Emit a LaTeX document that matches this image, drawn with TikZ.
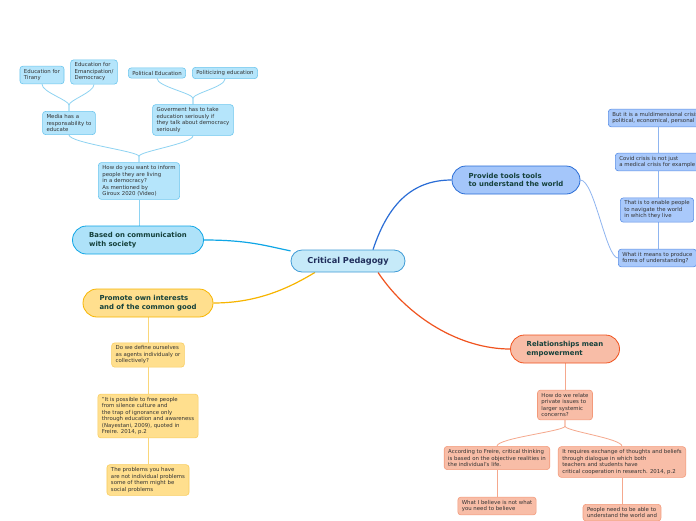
\documentclass[tikz,border=0pt]{standalone}
\usepackage{fontspec}
\setmainfont{DejaVu Sans}
\usetikzlibrary{backgrounds}

\definecolor{rootfill}{HTML}{C6EAF9}
\definecolor{rootline}{HTML}{3F9BD6}
\definecolor{roottext}{HTML}{1F2D5A}
\definecolor{topictext}{HTML}{14403A}
\definecolor{ideatext}{HTML}{333333}
\definecolor{basedfill}{HTML}{AEE2F9}
\definecolor{basedline}{HTML}{0FA6E6}
\definecolor{blueideafill}{HTML}{B5E5FB}
\definecolor{blueidealine}{HTML}{6CC6EE}
\definecolor{bluesub}{HTML}{8ED3F2}
\definecolor{toolsfill}{HTML}{A4C6FA}
\definecolor{toolsline}{HTML}{2A6DD6}
\definecolor{toolideafill}{HTML}{A9C9FB}
\definecolor{toolidealine}{HTML}{5B8FE6}
\definecolor{toolsub}{HTML}{8FB5F0}
\definecolor{promfill}{HTML}{FFDF8E}
\definecolor{promline}{HTML}{F7B500}
\definecolor{yellowidealine}{HTML}{F8CD60}
\definecolor{yellowsub}{HTML}{FAD77A}
\definecolor{relfill}{HTML}{F8BDA7}
\definecolor{relline}{HTML}{F0531F}
\definecolor{redidealine}{HTML}{F39A7B}
\definecolor{redsub}{HTML}{F5A88D}

\tikzset{
  root/.style={draw=rootline, fill=rootfill, line width=0.8pt, rounded corners=11pt,
    minimum width=114pt, minimum height=22pt, text=roottext,
    font=\fontsize{8.2}{9.5}\selectfont\bfseries},
  topic/.style={line width=0.8pt, rounded corners=14pt, minimum height=28pt, align=left,
    text=topictext, font=\fontsize{6.9}{8.8}\selectfont\bfseries},
  idea/.style={line width=0.6pt, rounded corners=3pt, inner xsep=4pt, inner ysep=3pt,
    align=left, text=ideatext, font=\fontsize{5.4}{6.5}\selectfont},
  blueidea/.style={idea, draw=blueidealine, fill=blueideafill},
  toolidea/.style={idea, draw=toolidealine, fill=toolideafill},
  yellowidea/.style={idea, draw=yellowidealine, fill=promfill},
  redidea/.style={idea, draw=redidealine, fill=relfill},
}

\begin{document}
\begin{tikzpicture}[x=1pt,y=-1pt]
	\useasboundingbox (0,0) rectangle (696,520);

	\node[root] (crit) at (348,261) {Critical Pedagogy};
	\node[topic, draw=basedline, fill=basedfill, minimum width=131pt] (based) at (138,240) {Based on communication\\with society};
	\node[topic, draw=promline, fill=promfill, minimum width=130pt] (promote) at (148,303) {Promote own interests\\and of the common good};
	\node[topic, draw=toolsline, fill=toolsfill, minimum width=128pt] (tools) at (516,180) {Provide tools tools\\to understand the world};
	\node[topic, draw=relline, fill=relfill, minimum width=109pt] (relate) at (565,349) {Relationships mean\\empowerment};

	\node[blueidea] (inform) at (139,181) {How do you want to inform\\people they are living\\in a democracy?\\As mentioned by\\Giroux 2020 (Video)};
	\node[blueidea] (media) at (69,123) {Media has a\\responsability to\\educate};
	\node[blueidea] (govern) at (193,120) {Goverment has to take\\education seriously if\\they talk about democracy\\seriously};
	\node[blueidea] (tirany) at (42,75) {Education for\\Tirany};
	\node[blueidea] (emancip) at (94,72) {Education for\\Emancipation/\\Democracy};
	\node[blueidea] (poled) at (157,73) {Political Education};
	\node[blueidea] (politic) at (225,73) {Politicizing education};

	\node[yellowidea] (define) at (148,355) {Do we define ourselves\\as agents individualy or\\collectively?};
	\node[yellowidea] (free) at (148,416) {"It is possible to free people\\from silence culture and\\the trap of ignorance only\\through education and awareness\\(Nayestani, 2009), quoted in\\Freire. 2014, p.2};
	\node[yellowidea] (problems) at (148,480) {The problems you have\\are not individual problems\\some of them might be\\social problems};

	\node[toolidea, anchor=west] (crisis) at (608,118) {But it is a muldimensional crisis\\political, economical, personal};
	\node[toolidea, anchor=west] (covid) at (615,162) {Covid crisis is not just\\a medical crisis for example};
	\node[toolidea, anchor=west] (enable) at (620,210) {That is to enable people\\to navigate the world\\in which they live};
	\node[toolidea, anchor=west] (means) at (618,258) {What it means to produce\\forms of understanding?};

	\node[redidea] (private) at (565,405) {How do we relate\\private issues to\\larger systemic\\concerns?};
	\node[redidea] (freire) at (497,458) {According to Freire, critical thinking\\is based on the objective realities in\\the individual's life.};
	\node[redidea] (exchange) at (622,462) {It requires exchange of thoughts and beliefs\\through dialogue in which both\\teachers and students have\\critical cooperation in research. 2014, p.2};
	\node[redidea] (believe) at (497,506) {What I believe is not what\\you need to believe};
	\node[redidea, anchor=north] (people) at (622,504) {People need to be able to\\understand the world and};

	\coordinate (spine) at (658,0);

	\begin{scope}[on background layer]
		\fill[white] (0,0) rectangle (696,520);
		\draw[basedline, line width=1.2pt] (based.east) .. controls +(45,0) and +(-25,-5) .. (crit.170);
		\draw[promline, line width=1.2pt] (promote.east) .. controls +(45,0) and +(-25,15) .. ([xshift=-33pt]crit.south);
		\draw[toolsline, line width=1.2pt] ([xshift=25pt]crit.north) .. controls +(15,-45) and +(-40,0) .. (tools.west);
		\draw[relline, line width=1.2pt] ([xshift=30pt]crit.south) .. controls +(30,45) and +(-50,0) .. (relate.west);

		\draw[bluesub, line width=0.8pt] (based.north -| inform) -- (inform.south);
		\draw[bluesub, line width=0.8pt] (inform.north) -- ++(0,-6) .. controls +(0,-5) and +(0,8) .. (media.south);
		\draw[bluesub, line width=0.8pt] (inform.north) -- ++(0,-6) .. controls +(0,-5) and +(0,8) .. (govern.south);
		\draw[bluesub, line width=0.8pt] (media.north) -- ++(0,-6) .. controls +(0,-5) and +(0,8) .. (tirany.south);
		\draw[bluesub, line width=0.8pt] (media.north) -- ++(0,-6) .. controls +(0,-5) and +(0,8) .. (emancip.south);
		\draw[bluesub, line width=0.8pt] (govern.north) -- ++(0,-6) .. controls +(0,-5) and +(0,8) .. (poled.south);
		\draw[bluesub, line width=0.8pt] (govern.north) -- ++(0,-6) .. controls +(0,-5) and +(0,8) .. (politic.south);

		\draw[yellowsub, line width=0.8pt] (promote.south) -- (define.north);
		\draw[yellowsub, line width=0.8pt] (define.south) -- (free.north);
		\draw[yellowsub, line width=0.8pt] (free.south) -- (problems.north);

		\draw[toolsub, line width=0.8pt] (tools.east) .. controls +(14,0) and +(-12,0) .. (means.west);
		\draw[toolsub, line width=0.8pt] (crisis.south -| spine) -- (means.north -| spine);

		\draw[redsub, line width=0.8pt] (relate.south) -- (private.north);
		\draw[redsub, line width=0.8pt] (private.south) -- ++(0,6) .. controls +(0,5) and +(0,-8) .. (freire.north);
		\draw[redsub, line width=0.8pt] (private.south) -- ++(0,6) .. controls +(0,5) and +(0,-8) .. (exchange.north);
		\draw[redsub, line width=0.8pt] (freire.south) -- (believe.north);
		\draw[redsub, line width=0.8pt] (exchange.south) -- (people.north);
	\end{scope}
\end{tikzpicture}
\end{document}
